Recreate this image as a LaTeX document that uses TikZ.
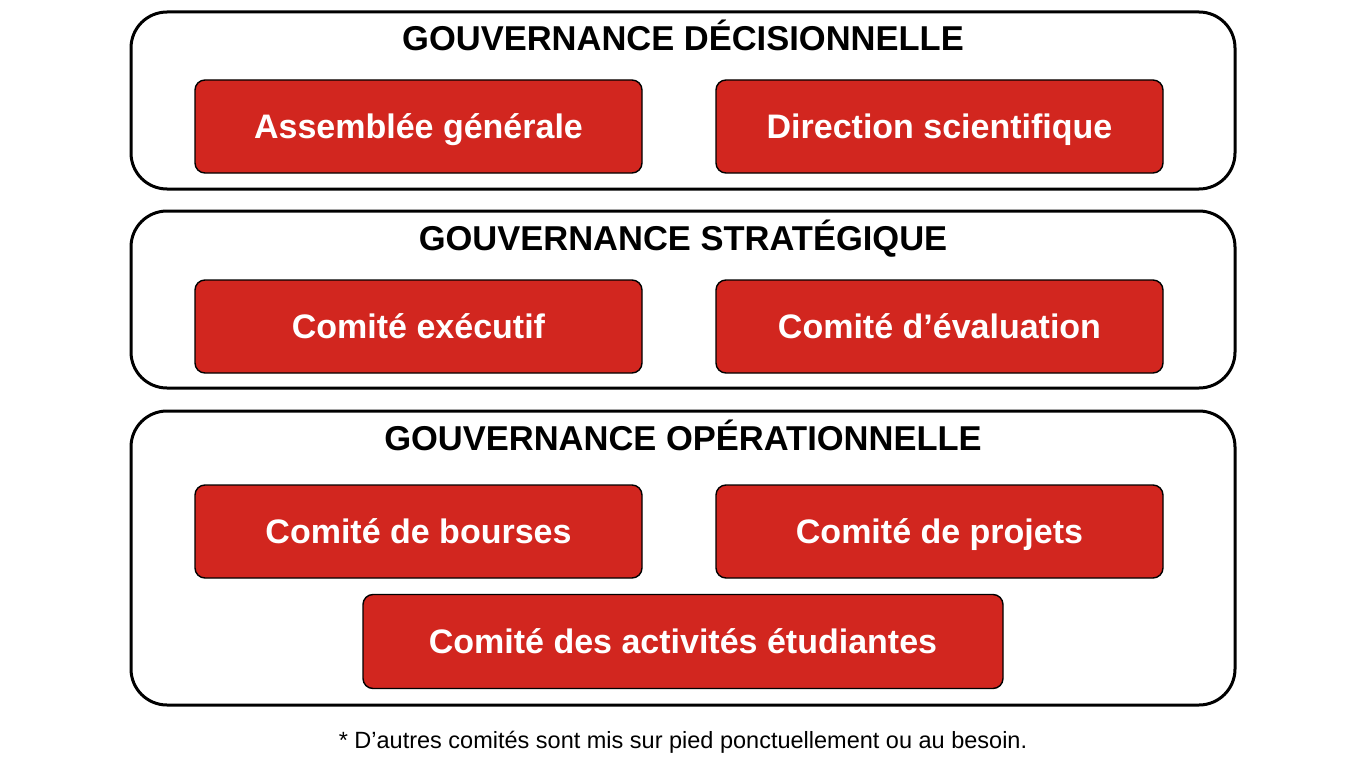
\documentclass[tikz,border=0pt]{standalone}
\usepackage{fontspec}
\setmainfont{Liberation Sans}
\begin{document}
\begin{tikzpicture}[x=1pt,y=-1pt,
  group/.style={draw=black,line width=3pt,rounded corners=36pt,fill=white},
  grouptitle/.style={font=\fontsize{34.5}{40}\selectfont\bfseries,text=black,anchor=center,inner sep=0pt,text height=24.7pt,text depth=0pt},
  item/.style={draw=black,line width=1.4pt,rounded corners=10pt,fill=redbox,text=white,
    font=\fontsize{34}{40}\selectfont\bfseries,inner sep=0pt,anchor=center,text height=24.3pt,text depth=0pt},
  note/.style={font=\fontsize{23.5}{28}\selectfont,anchor=center,inner sep=0pt,text height=16.8pt,text depth=0pt}]
\definecolor{redbox}{HTML}{D2261F}
\useasboundingbox (0,0) rectangle (1366,768);
% groups
\draw[group] (131,12) rectangle (1235,189);
\draw[group] (131,211) rectangle (1235,388);
\draw[group] (131,411) rectangle (1235,705);
\node[grouptitle] (t1) at (683,38) {GOUVERNANCE DÉCISIONNELLE};
\node[grouptitle] (t2) at (683,238) {GOUVERNANCE STRATÉGIQUE};
\node[grouptitle] (t3) at (683,438) {GOUVERNANCE OPÉRATIONNELLE};
% items
\node[item,minimum width=447pt,minimum height=93pt] (a1) at (418.5,126.5) {Assemblée générale};
\node[item,minimum width=447pt,minimum height=93pt] (a2) at (939.5,126.5) {Direction scientifique};
\node[item,minimum width=447pt,minimum height=93pt] (b1) at (418.5,326.5) {Comité exécutif};
\node[item,minimum width=447pt,minimum height=93pt] (b2) at (939.5,326.5) {Comité d’évaluation};
\node[item,minimum width=447pt,minimum height=93pt] (c1) at (418.5,531.5) {Comité de bourses};
\node[item,minimum width=447pt,minimum height=93pt] (c2) at (939.5,531.5) {Comité de projets};
\node[item,minimum width=640pt,minimum height=94pt] (c3) at (683,641.5) {Comité des activités étudiantes};
\node[note] (n) at (683,740) {* D’autres comités sont mis sur pied ponctuellement ou au besoin.};
\end{tikzpicture}
\end{document}
